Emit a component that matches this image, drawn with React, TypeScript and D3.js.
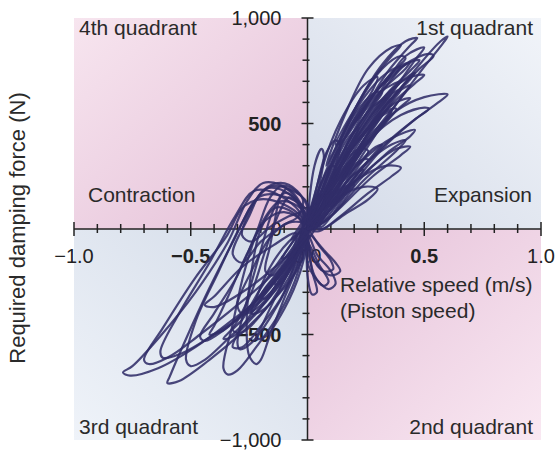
import * as d3 from "d3";

type Pt = [number, number];

// x ticks (relative speed, m/s) and y ticks (damping force, N)
const speedTicks = [-1.0, -0.5, 0.0, 0.5, 1.0];
const speedTickLabels = ["\u22121.0", "\u22120.5", "0.0", "0.5", "1.0"];
const forceTicks = [1000, 500, 0, -500, -1000];
const forceTickLabels = ["1,000", "500", "0", "\u2212500", "\u22121,000"];

// expansion side loops (1st quadrant)
const expansionLoops: Pt[][] = [
  [[0.02,40],[0.1,300],[0.2,560],[0.32,780],[0.42,890],[0.47,905],[0.44,870],[0.34,740],[0.25,575],[0.14,330],[0.05,90]],
  [[0.03,30],[0.18,320],[0.34,580],[0.48,780],[0.57,890],[0.6,912],[0.58,880],[0.48,740],[0.36,560],[0.2,290],[0.06,40]],
  [[0.04,20],[0.14,230],[0.25,420],[0.38,560],[0.5,625],[0.6,638],[0.56,600],[0.45,510],[0.32,380],[0.18,190],[0.06,10]],
  [[0.01,10],[0.1,290],[0.22,540],[0.34,710],[0.44,790],[0.48,800],[0.44,750],[0.34,640],[0.22,450],[0.1,200]],
  [[0.02,0],[0.12,220],[0.26,420],[0.4,540],[0.5,575],[0.52,570],[0.46,520],[0.34,410],[0.2,240],[0.08,50]],
  [[0.0,20],[0.08,260],[0.18,470],[0.3,640],[0.4,700],[0.36,650],[0.26,520],[0.14,300],[0.05,80]],
  [[0.02,10],[0.12,190],[0.24,330],[0.36,430],[0.46,470],[0.44,440],[0.34,360],[0.22,230],[0.1,60]],
  [[0.01,0],[0.1,130],[0.22,240],[0.34,300],[0.4,290],[0.36,250],[0.26,170],[0.14,60],[0.05,-10]],
  [[0.0,10],[0.04,200],[0.08,360],[0.12,420],[0.14,400],[0.12,300],[0.08,150],[0.03,20]],
  [[0.01,30],[0.06,280],[0.14,510],[0.24,680],[0.3,720],[0.28,660],[0.2,520],[0.1,290],[0.03,60]],
  [[0.0,0],[0.1,230],[0.2,400],[0.3,520],[0.36,560],[0.33,500],[0.24,380],[0.14,210],[0.04,40]],
  [[0.02,20],[0.12,140],[0.24,200],[0.3,190],[0.26,140],[0.16,70],[0.06,0]],
  [[0.0,0],[0.06,140],[0.14,290],[0.22,380],[0.26,370],[0.22,300],[0.14,180],[0.05,40]],
  [[0.03,50],[0.16,380],[0.3,630],[0.42,820],[0.5,860],[0.46,800],[0.36,640],[0.24,420],[0.1,150]],
  [[0.0,0],[0.2,260],[0.36,400],[0.42,420],[0.38,370],[0.24,230],[0.08,40]],
  [[0.01,60],[0.03,300],[0.06,380],[0.07,350],[0.05,200],[0.03,80]],
  [[0.08,300],[0.16,540],[0.26,760],[0.36,860],[0.4,870],[0.36,820],[0.26,680],[0.18,520],[0.1,340]],
  [[0.1,200],[0.22,470],[0.34,640],[0.44,720],[0.5,730],[0.46,690],[0.36,590],[0.24,420],[0.14,250]],
  [[0.0,0],[0.14,300],[0.28,500],[0.38,600],[0.44,620],[0.4,580],[0.3,470],[0.18,280],[0.06,60]],
  [[0.02,0],[0.08,120],[0.16,200],[0.2,210],[0.16,160],[0.08,70]],
  [[0.0,40],[0.08,220],[0.18,420],[0.28,580],[0.34,620],[0.3,560],[0.2,400],[0.1,200],[0.02,30]],
  [[0.02,80],[0.1,330],[0.2,540],[0.28,640],[0.32,650],[0.28,580],[0.18,400],[0.08,170]],
  [[0.04,60],[0.14,260],[0.26,480],[0.36,640],[0.4,660],[0.36,600],[0.26,440],[0.14,220]],
  [[0.0,0],[0.06,100],[0.14,220],[0.22,320],[0.26,330],[0.22,270],[0.14,160],[0.05,30]],
  [[0.06,150],[0.18,360],[0.3,540],[0.4,660],[0.44,680],[0.4,620],[0.3,480],[0.18,300]],
  [[0.12,400],[0.22,600],[0.32,760],[0.4,820],[0.42,810],[0.36,740],[0.26,600],[0.16,430]],
  [[0.0,20],[0.12,260],[0.24,450],[0.34,560],[0.38,570],[0.34,510],[0.22,360],[0.1,150]],
  [[0.02,100],[0.06,220],[0.1,300],[0.12,290],[0.08,200],[0.04,110]],
  [[0.16,380],[0.3,620],[0.42,780],[0.52,830],[0.54,820],[0.48,760],[0.36,620],[0.22,420]],
  [[0.03,0],[0.14,150],[0.28,300],[0.38,380],[0.44,390],[0.4,350],[0.28,250],[0.12,80]],
  [[0.2,500],[0.3,660],[0.38,760],[0.44,790],[0.42,760],[0.34,680],[0.26,580]],
  [[0.14,420],[0.24,620],[0.34,740],[0.4,770],[0.38,740],[0.3,660],[0.2,520]],
  [[0.18,380],[0.28,540],[0.38,680],[0.46,740],[0.44,710],[0.36,620],[0.26,480]],
  [[0.04,120],[0.1,280],[0.18,440],[0.22,480],[0.2,430],[0.12,290],[0.06,150]],
  [[0.08,120],[0.18,260],[0.28,380],[0.32,400],[0.28,350],[0.18,220],[0.1,110]],
];

// contraction side loops (3rd quadrant, lagging into the 4th)
const contractionLoops: Pt[][] = [
  [[-0.02,80],[-0.1,200],[-0.19,218],[-0.26,130],[-0.34,-60],[-0.48,-300],[-0.64,-520],[-0.75,-650],[-0.79,-680],[-0.76,-695],[-0.64,-660],[-0.48,-560],[-0.32,-430],[-0.18,-300],[-0.06,-120]],
  [[0,120],[-0.08,190],[-0.16,200],[-0.24,110],[-0.31,-40],[-0.42,-280],[-0.52,-520],[-0.59,-700],[-0.6,-730],[-0.55,-720],[-0.42,-620],[-0.28,-490],[-0.14,-330],[-0.03,-160]],
  [[0,60],[-0.06,120],[-0.12,130],[-0.2,20],[-0.27,-200],[-0.32,-450],[-0.36,-660],[-0.34,-690],[-0.3,-670],[-0.22,-560],[-0.12,-400],[-0.04,-200]],
  [[-0.02,50],[-0.14,170],[-0.23,180],[-0.31,60],[-0.42,-160],[-0.55,-400],[-0.63,-580],[-0.62,-610],[-0.54,-590],[-0.4,-500],[-0.24,-380],[-0.1,-220]],
  [[0,100],[-0.05,180],[-0.11,205],[-0.16,150],[-0.22,-20],[-0.3,-220],[-0.4,-400],[-0.46,-510],[-0.44,-530],[-0.36,-480],[-0.24,-360],[-0.12,-220],[-0.03,-80]],
  [[-0.01,40],[-0.06,150],[-0.1,170],[-0.15,80],[-0.2,-100],[-0.26,-340],[-0.3,-540],[-0.29,-570],[-0.24,-540],[-0.16,-420],[-0.08,-260],[-0.02,-90]],
  [[0,80],[-0.12,160],[-0.21,150],[-0.28,30],[-0.38,-200],[-0.48,-440],[-0.52,-620],[-0.5,-650],[-0.44,-620],[-0.34,-520],[-0.2,-370],[-0.06,-170]],
  [[-0.02,20],[-0.08,90],[-0.14,100],[-0.2,0],[-0.24,-200],[-0.26,-420],[-0.25,-600],[-0.22,-640],[-0.2,-620],[-0.16,-500],[-0.1,-330],[-0.03,-130]],
  [[0,0],[-0.08,-60],[-0.16,-180],[-0.22,-330],[-0.24,-400],[-0.2,-390],[-0.12,-300],[-0.04,-140]],
  [[-0.01,60],[-0.06,170],[-0.09,190],[-0.12,140],[-0.14,40],[-0.16,-80],[-0.18,-200],[-0.15,-220],[-0.1,-160],[-0.04,-60]],
  [[-0.02,40],[-0.17,140],[-0.27,110],[-0.35,-40],[-0.48,-230],[-0.62,-470],[-0.7,-620],[-0.68,-640],[-0.6,-610],[-0.46,-500],[-0.3,-360],[-0.14,-200]],
  [[0,30],[-0.04,120],[-0.08,150],[-0.12,80],[-0.18,-100],[-0.24,-300],[-0.32,-470],[-0.36,-520],[-0.32,-510],[-0.22,-400],[-0.12,-260],[-0.04,-110]],
  [[-0.05,-20],[-0.15,-80],[-0.28,-180],[-0.4,-320],[-0.44,-360],[-0.4,-370],[-0.28,-300],[-0.16,-200],[-0.06,-90]],
  [[-0.02,140],[-0.08,210],[-0.14,215],[-0.2,170],[-0.25,60],[-0.32,-120],[-0.28,-160],[-0.2,-60],[-0.1,20],[-0.04,60]],
  [[-0.02,0],[-0.1,-120],[-0.2,-280],[-0.28,-430],[-0.32,-480],[-0.28,-490],[-0.18,-380],[-0.08,-200]],
  [[0,-40],[-0.06,-160],[-0.14,-330],[-0.2,-470],[-0.22,-520],[-0.18,-510],[-0.1,-380],[-0.03,-200]],
  [[-0.02,30],[-0.1,80],[-0.18,40],[-0.26,-120],[-0.34,-320],[-0.4,-460],[-0.42,-500],[-0.36,-480],[-0.26,-380],[-0.14,-240],[-0.05,-100]],
  [[-0.04,-80],[-0.14,-240],[-0.24,-400],[-0.3,-500],[-0.32,-560],[-0.28,-560],[-0.2,-460],[-0.1,-300]],
  [[0,20],[-0.08,30],[-0.16,-40],[-0.24,-200],[-0.3,-360],[-0.28,-400],[-0.2,-330],[-0.1,-190],[-0.02,-40]],
  [[-0.02,90],[-0.1,180],[-0.18,190],[-0.24,100],[-0.28,-30],[-0.24,-60],[-0.16,10],[-0.08,60]],
];

// rebound loops (2nd quadrant)
const reboundLoops: Pt[][] = [
  [[0,-20],[0.04,-120],[0.1,-200],[0.12,-260],[0.09,-285],[0.04,-240],[0,-160]],
  [[0,0],[0.05,-80],[0.1,-150],[0.11,-190],[0.07,-200],[0.02,-130]],
  [[0,-50],[0.02,-200],[0.04,-300],[0.02,-310],[0,-220]],
  [[0.01,-30],[0.07,-100],[0.12,-160],[0.14,-200],[0.1,-220],[0.05,-180],[0.01,-100]],
  [[0,-60],[0.05,-170],[0.09,-250],[0.07,-270],[0.03,-220]],
];

// loops passing through the origin
const centerLoops: Pt[][] = [
  [[-0.14,-260],[-0.06,-120],[0.02,60],[0.1,220],[0.14,280],[0.1,200],[0.02,20],[-0.06,-160],[-0.12,-260]],
  [[-0.2,-320],[-0.08,-140],[0.04,80],[0.16,300],[0.2,340],[0.14,240],[0.02,30],[-0.1,-200],[-0.18,-330]],
  [[-0.1,-120],[0,40],[0.06,160],[0.08,150],[0.02,20],[-0.06,-110],[-0.11,-140]],
  [[-0.26,-400],[-0.12,-200],[0.0,-30],[0.1,120],[0.2,260],[0.24,280],[0.18,200],[0.06,40],[-0.08,-180],[-0.2,-360]],
  [[-0.06,-40],[0.0,50],[0.04,120],[0.02,110],[-0.03,20],[-0.07,-50]],
];

const W = 560;
const H = 450;
const font = "'Liberation Sans', Arial, Helvetica, sans-serif";

export default function App() {
  const x = d3.scaleLinear().domain([-1, 1]).range([74, 541]);
  const y = d3.scaleLinear().domain([-1000, 1000]).range([440, 18]);
  const x0 = x(0);
  const y0 = y(0);

  const line = d3
    .line<Pt>()
    .x((d) => x(d[0]))
    .y((d) => y(d[1]))
    .curve(d3.curveCatmullRomClosed.alpha(0.5));

  const allLoops = [...contractionLoops, ...reboundLoops, ...centerLoops, ...expansionLoops];
  const minorX = d3.range(-10, 11).map((i) => i / 10);
  const minorY = d3.range(-10, 11).map((i) => i * 100);

  return (
    <svg width={W} height={H} style={{ position: "absolute", left: 0, top: 0 }} fontFamily={font}>
      <defs>
        <linearGradient id="q4" x1="0" y1="0" x2="1" y2="1">
          <stop offset="0" stopColor="#f7e5ef" />
          <stop offset="1" stopColor="#e4bfd7" />
        </linearGradient>
        <linearGradient id="q1" x1="1" y1="0" x2="0" y2="1">
          <stop offset="0" stopColor="#f1f4f9" />
          <stop offset="1" stopColor="#d3dae8" />
        </linearGradient>
        <linearGradient id="q3" x1="0" y1="1" x2="1" y2="0">
          <stop offset="0" stopColor="#eff3f9" />
          <stop offset="1" stopColor="#d3dbe8" />
        </linearGradient>
        <linearGradient id="q2" x1="1" y1="1" x2="0" y2="0">
          <stop offset="0" stopColor="#f9e8f2" />
          <stop offset="1" stopColor="#e5c0d8" />
        </linearGradient>
      </defs>
      <rect x={0} y={0} width={W} height={H} fill="#fff" />
      <rect x={x(-1)} y={y(1000)} width={x0 - x(-1)} height={y0 - y(1000)} fill="url(#q4)" />
      <rect x={x0} y={y(1000)} width={x(1) - x0} height={y0 - y(1000)} fill="url(#q1)" />
      <rect x={x(-1)} y={y0} width={x0 - x(-1)} height={y(-1000) - y0} fill="url(#q3)" />
      <rect x={x0} y={y0} width={x(1) - x0} height={y(-1000) - y0} fill="url(#q2)" />

      {/* axes */}
      <g stroke="#222" strokeWidth={1.5}>
        <line x1={x(-1)} x2={x(1)} y1={y0} y2={y0} />
        <line x1={x0} x2={x0} y1={y(1000)} y2={y(-1000)} />
        {minorX.map((v) => {
          const major = Math.abs(Math.round(v * 10)) % 5 === 0;
          return <line key={"xt" + v} x1={x(v)} x2={x(v)} y1={y0 - (major ? 7 : 5)} y2={y0 + (major ? 7 : 4)} />;
        })}
        {minorY.map((v) => {
          const major = Math.abs(v) % 500 === 0;
          return <line key={"yt" + v} x1={x0 - (major ? 6 : 5)} x2={x0 + (major ? 6 : 2)} y1={y(v)} y2={y(v)} />;
        })}
      </g>

      {/* tick labels */}
      <g fontSize={20} fill="#222">
        {speedTicks.map((v, i) => (
          <text key={"xl" + i} x={x(v)} y={y0 + 34} textAnchor="middle" fontWeight={Math.abs(v) === 0.5 ? "bold" : "normal"}>
            {speedTickLabels[i]}
          </text>
        ))}
        {forceTicks.map((v, i) => (
          <text key={"yl" + i} x={x0 - 26} y={y(v)} dy="0.36em" textAnchor="end" fontWeight={Math.abs(v) === 500 ? "bold" : "normal"}>
            {forceTickLabels[i]}
          </text>
        ))}
      </g>

      {/* measured loops */}
      <g fill="none" stroke="#312e69" strokeWidth={2.2} strokeOpacity={0.88} strokeLinejoin="round">
        {allLoops.map((loop, i) => (
          <path key={i} d={line(loop) ?? ""} />
        ))}
      </g>

      {/* labels */}
      <g fontSize={21} fill="#2a2a2a">
        <text x={79} y={35}>4th quadrant</text>
        <text x={533} y={35} textAnchor="end">1st quadrant</text>
        <text x={88} y={202}>Contraction</text>
        <text x={532} y={202} textAnchor="end">Expansion</text>
        <text x={79} y={434}>3rd quadrant</text>
        <text x={533} y={434} textAnchor="end">2nd quadrant</text>
        <text x={340} y={292}>Relative speed (m/s)</text>
        <text x={340} y={318}>(Piston speed)</text>
        <text transform={`translate(25,228) rotate(-90)`} textAnchor="middle" fontSize={22}>
          Required damping force (N)
        </text>
      </g>
    </svg>
  );
}
